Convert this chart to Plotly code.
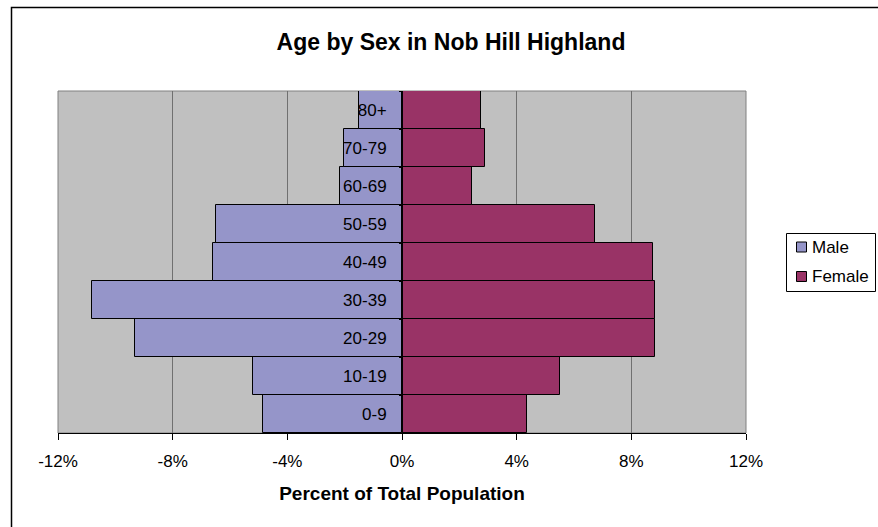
import plotly.graph_objects as go

age_groups = ["0-9", "10-19", "20-29", "30-39", "40-49", "50-59", "60-69", "70-79", "80+"]
male_pct = [-4.84, -5.19, -9.30, -10.81, -6.60, -6.49, -2.16, -2.02, -1.51]
female_pct = [4.37, 5.52, 8.84, 8.84, 8.74, 6.73, 2.45, 2.91, 2.77]
x_ticks = [-12, -8, -4, 0, 4, 8, 12]
x_tick_labels = ["-12%", "-8%", "-4%", "0%", "4%", "8%", "12%"]
series_names = ["Male", "Female"]
series_colors = ["#9595C9", "#993366"]

FONT = "Liberation Sans, Arial, sans-serif"
TICK_SIZE = 17

fig = go.Figure()
for name, vals, col in zip(series_names, [male_pct, female_pct], series_colors):
    fig.add_trace(go.Bar(
        y=age_groups, x=vals, orientation="h", name=name,
        marker=dict(color=col, line=dict(color="black", width=1)),
    ))

W, H = 878, 527
L, R, T, B = 58, 746, 91, 433
PW, PH = R - L, B - T


def px_x(x):
    return (x - L) / PW


def px_y(y):
    return (B - y) / PH


fig.update_layout(
    width=W, height=H,
    margin=dict(l=L, r=W - R, t=T, b=H - B, pad=0, autoexpand=False),
    barmode="overlay", bargap=0,
    plot_bgcolor="#C0C0C0", paper_bgcolor="white",
    font=dict(family=FONT, size=TICK_SIZE, color="black"),
    title=dict(text="<b>Age by Sex in Nob Hill Highland</b>", x=451 / W, xref="container",
               xanchor="center", y=1 - 42 / H, yanchor="middle",
               font=dict(size=23, family=FONT, color="black")),
    xaxis=dict(range=[-12, 12], tickvals=x_ticks, ticktext=x_tick_labels,
               showgrid=True, gridcolor="#707070", gridwidth=1,
               zeroline=False, showline=True, linecolor="black", linewidth=1,
               ticks="outside", ticklen=6, tickcolor="black",
               ticklabelstandoff=7, tickfont=dict(size=TICK_SIZE, family=FONT),
               title=dict(text="<b>Percent of Total Population</b>", standoff=16,
                          font=dict(size=19, family=FONT)),
               fixedrange=True),
    yaxis=dict(type="category", categoryorder="array", categoryarray=age_groups,
               anchor="free", position=0.5, side="left",
               showline=True, linecolor="black", linewidth=1,
               ticks="outside", ticklen=3, tickcolor="black", tickson="boundaries",
               ticklabelstandoff=12, showgrid=False, zeroline=False,
               tickfont=dict(size=TICK_SIZE, family=FONT), fixedrange=True),
    showlegend=False,
)

# plot area border (gray) and outer chart border
fig.add_shape(type="rect", xref="paper", yref="paper", x0=0, x1=1, y0=0, y1=1,
              line=dict(color="#808080", width=1), fillcolor="rgba(0,0,0,0)", layer="below")
fig.add_shape(type="rect", xref="paper", yref="paper",
              x0=px_x(11.5), x1=px_x(W + 40),
              y0=px_y(H + 40), y1=px_y(7.5),
              line=dict(color="black", width=1.5), fillcolor="rgba(0,0,0,0)")

# legend (Excel style)
lg_x0, lg_x1, lg_y0, lg_y1 = 786.5, 875.5, 233.5, 291.5
fig.add_shape(type="rect", xref="paper", yref="paper",
              x0=px_x(lg_x0), x1=px_x(lg_x1), y0=px_y(lg_y1), y1=px_y(lg_y0),
              line=dict(color="black", width=1), fillcolor="white")
row_centers = [247, 276.5]
for name, col, cy in zip(series_names, series_colors, row_centers):
    fig.add_shape(type="rect", xref="paper", yref="paper",
                  x0=px_x(796.5), x1=px_x(806.5), y0=px_y(cy + 5), y1=px_y(cy - 5),
                  line=dict(color="black", width=1), fillcolor=col)
    fig.add_annotation(x=px_x(810), y=px_y(cy), xref="paper", yref="paper",
                       text=name, showarrow=False, xanchor="left", yanchor="middle",
                       font=dict(size=TICK_SIZE, family=FONT, color="black"))

fig.write_html("out.html", config={"displayModeBar": False},
               post_script="document.body.style.margin='0';")
